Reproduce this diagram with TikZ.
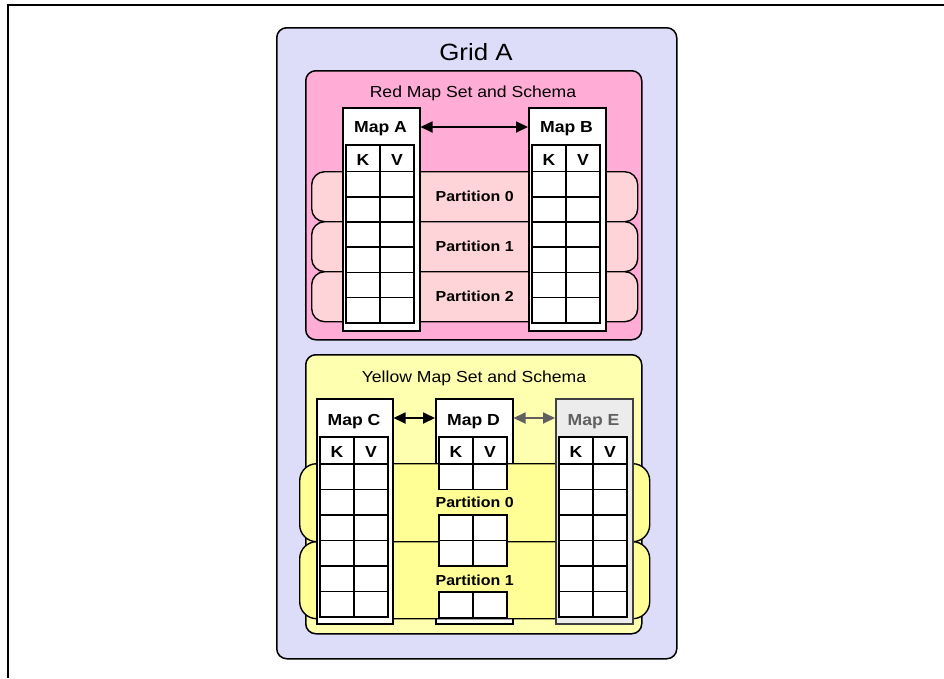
\documentclass[tikz,border=0pt]{standalone}
\usepackage{fontspec}
\setmainfont{Liberation Sans}[FakeStretch=1.1]
\usetikzlibrary{arrows.meta}

\definecolor{gridblue}{RGB}{221,221,250}
\definecolor{redset}{RGB}{255,172,214}
\definecolor{redband}{RGB}{255,212,216}
\definecolor{yellowset}{RGB}{255,255,176}
\definecolor{yellowband}{RGB}{255,255,150}
\definecolor{mapgray}{RGB}{236,236,236}
\definecolor{textgray}{RGB}{96,96,96}

\tikzset{
  roundbox/.style={draw, line width=1.5pt, rounded corners=10pt, inner sep=0pt, anchor=north west},
  band/.style={draw, line width=1.4pt, inner sep=0pt, anchor=north west,
    font=\bfseries\fontsize{14.5}{17}\selectfont},
  mapbox/.style={draw, line width=1.5pt, fill=white, inner sep=0pt, minimum width=77pt, anchor=north west},
  cell/.style={draw, line width=1.6pt},
  titletxt/.style={anchor=base, font=\fontsize{16}{18}\selectfont},
  maptxt/.style={anchor=base, font=\bfseries\fontsize{16}{18}\selectfont},
  link/.style={{Triangle[length=12pt,width=11pt]}-{Triangle[length=12pt,width=11pt]}, line width=1.8pt},
}

% header row of a key/value table
\newcommand{\kvhead}[2]{%
  \draw[cell, fill=white] (#1,#2) rectangle ++(68,26.5);
  \draw[cell] (#1+34,#2) -- ++(0,26.5);
  \node[maptxt] at (#1+17,#2+20) {K};
  \node[maptxt] at (#1+51,#2+20) {V};}
% block of empty key/value cells
\newcommand{\kvrows}[4]{%
  \draw[cell, fill=white] (#1,#2) rectangle ++(68,#3*#4);
  \draw[cell] (#1+34,#2) -- ++(0,#3*#4);
  \foreach \row in {1,...,#3} \draw[cell] (#1,#2+\row*#4) -- ++(68,0);}

\begin{document}
\begin{tikzpicture}[x=1pt, y=-1pt]
\useasboundingbox (0,0) rectangle (944,678);
\draw[line width=1.6pt] (8,678) -- (8,5) -- (944,5);

% grid
\node[roundbox, fill=gridblue, minimum width=400pt, minimum height=631pt] (grid) at (276,27) {};
\node[anchor=base, font=\fontsize{23.5}{26}\selectfont] (gridtitle) at (476,60) {Grid A};

% red map set
\node[roundbox, fill=redset, minimum width=336pt, minimum height=269pt] (redset) at (305,70) {};
\node[titletxt] (redtitle) at (473,97) {Red Map Set and Schema};
\node[band, fill=redband, rounded corners=13pt, minimum width=326pt, minimum height=50pt] (rp0) at (311,171) {Partition 0};
\node[band, fill=redband, rounded corners=13pt, minimum width=326pt, minimum height=50pt] (rp1) at (311,221) {Partition 1};
\node[band, fill=redband, rounded corners=13pt, minimum width=326pt, minimum height=50pt] (rp2) at (311,271) {Partition 2};

\node[mapbox, minimum height=223pt] (mapA) at (342,107) {};
\node[maptxt] (tA) at (380.5,132) {Map A};
\kvhead{346}{145}
\kvrows{346}{171.5}{6}{25.2}

\node[mapbox, minimum height=223pt] (mapB) at (528,107) {};
\node[maptxt] (tB) at (566.5,132) {Map B};
\kvhead{532}{145}
\kvrows{532}{171.5}{6}{25.2}

\draw[link] ([yshift=-20pt]mapA.north east) -- ([yshift=-20pt]mapB.north west);

% yellow map set
\node[roundbox, fill=yellowset, minimum width=336pt, minimum height=279pt] (yellowset) at (305,354) {};
\node[titletxt] (yellowtitle) at (474,382) {Yellow Map Set and Schema};

\node[mapbox, minimum height=225pt] (mapD) at (435,398) {};
\node[maptxt] (tD) at (473.5,425) {Map D};
\kvhead{439}{437}

\node[band, fill=yellowband, rounded corners=17pt, minimum width=350pt, minimum height=78pt] (yp0) at (299,463) {Partition 0};
\node[band, fill=yellowband, rounded corners=17pt, minimum width=350pt, minimum height=77pt] (yp1) at (299,541) {Partition 1};

\kvrows{439}{464}{1}{25.5}
\kvrows{439}{515}{2}{25.5}
\kvrows{439}{592}{1}{25.5}

\node[mapbox, minimum width=76pt, minimum height=225pt] (mapC) at (316,398) {};
\node[maptxt] (tC) at (354,425) {Map C};
\kvhead{320}{437}
\kvrows{320}{464}{6}{25.5}

\node[mapbox, fill=mapgray, draw=black!75, minimum height=225pt] (mapE) at (555,398) {};
\node[maptxt, text=textgray] (tE) at (593.5,425) {Map E};
\kvhead{559}{437}
\kvrows{559}{464}{6}{25.5}

\draw[link] ([yshift=-20pt]mapC.north east) -- ([yshift=-20pt]mapD.north west);
\draw[link, draw=textgray, fill=textgray] ([yshift=-20pt]mapD.north east) -- ([yshift=-20pt]mapE.north west);
\end{tikzpicture}
\end{document}
